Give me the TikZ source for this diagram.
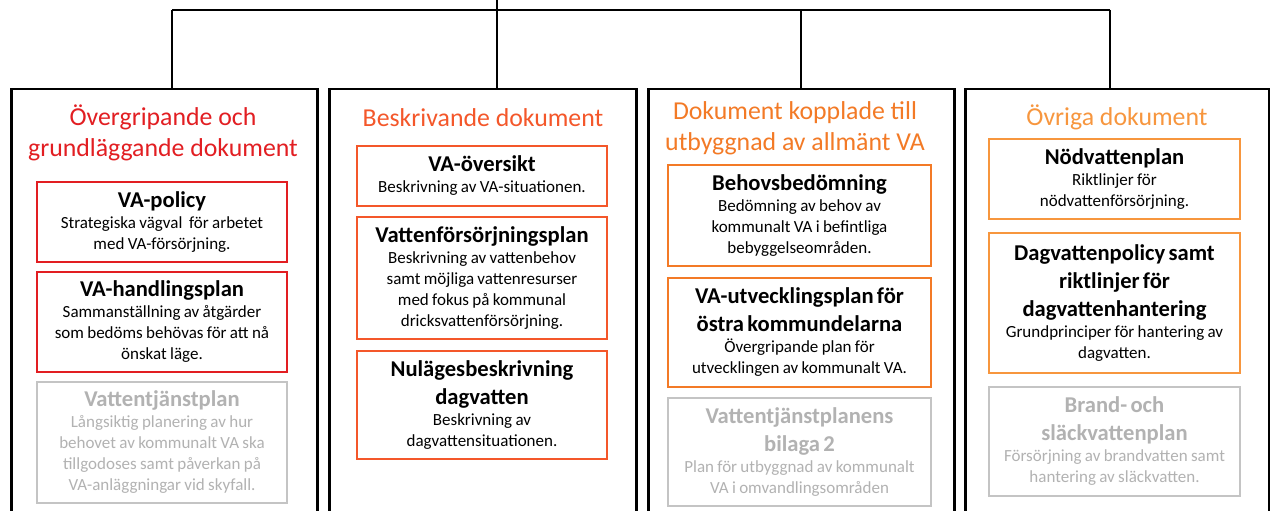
\documentclass[tikz,border=0pt]{standalone}
\usepackage{fontspec}
\setmainfont{Carlito}
\definecolor{cred}{HTML}{E21E22}
\definecolor{corr}{HTML}{F4572A}
\definecolor{cora}{HTML}{F37A26}
\definecolor{corb}{HTML}{F7963E}
\definecolor{cgrayline}{HTML}{C4C4C4}
\definecolor{cgraytext}{HTML}{B2B2B2}
\newcommand\ttl[1]{{\fontsize{22.6}{28}\selectfont\bfseries #1\par}}
\newcommand\bdy[1]{{\fontsize{17}{21}\selectfont #1\par}}
\tikzset{
  colbox/.style={draw=black, line width=2.5pt, anchor=north west, minimum height=460pt},
  ibox/.style={draw=#1, line width=2pt, align=center, inner sep=3pt},
  head/.style={align=center, text=#1, font=\fontsize{25.8}{31}\selectfont},
  conn/.style={draw=black, line width=2pt},
}
\begin{document}
\begin{tikzpicture}[x=1pt,y=-1pt]
\clip (0,0) rectangle (1270,511);
\fill[white] (0,0) rectangle (1270,511);
% columns
\node[colbox, minimum width=306pt] (c1) at (10,88) {};
\node[colbox, minimum width=307pt] (c2) at (328,88) {};
\node[colbox, minimum width=306pt] (c3) at (647,88) {};
\node[colbox, minimum width=304pt] (c4) at (964,88) {};
% connectors
\coordinate (top) at (497,0);
\coordinate (b1) at (172,10);
\coordinate (b2) at (497,10);
\coordinate (b3) at (801,10);
\coordinate (b4) at (1110,10);
\draw[conn] (b1) -- (b4);
\draw[conn] (top) -- (b2);
\draw[conn] (b1) -- (b1 |- c1.north);
\draw[conn] (b2) -- (b2 |- c2.north);
\draw[conn] (b3) -- (b3 |- c3.north);
\draw[conn] (b4) -- (b4 |- c4.north);
% headings
\node[head=cred] (h1) at (163,132.5) {Övergripande och\\grundläggande dokument};
\node[head=corr] (h2) at (483,118) {Beskrivande dokument};
\node[head=cora] (h3) at (795,128) {Dokument kopplade till\\utbyggnad av allmänt VA};
\node[head=corb] (h4) at (1117,117) {Övriga dokument};
% column 1
\node[ibox=cred, minimum width=250pt, minimum height=80pt, text width=242pt] (p11) at (162,222)
  {\ttl{VA-policy}\bdy{Strategiska vägval\ \ för arbetet\\med VA-försörjning.}};
\node[ibox=cred, minimum width=250pt, minimum height=100pt, text width=242pt] (p12) at (162,322)
  {\ttl{VA-handlingsplan}\bdy{Sammanställning av åtgärder\\som bedöms behövas för att nå\\önskat läge.}};
\node[ibox=cgrayline, text=cgraytext, minimum width=250pt, minimum height=121pt, text width=242pt] (p13) at (162,442.5)
  {\ttl{Vattentjänstplan}\bdy{Långsiktig planering av hur\\behovet av kommunalt VA ska\\tillgodoses samt påverkan på\\VA-anläggningar vid skyfall.}};
% column 2
\node[ibox=corr, minimum width=250pt, minimum height=60pt, text width=242pt] (p21) at (482,176)
  {\ttl{VA-översikt}\bdy{Beskrivning av VA-situationen.}};
\node[ibox=corr, minimum width=250pt, minimum height=122pt, text width=242pt] (p22) at (482,278)
  {\ttl{Vattenförsörjningsplan}\bdy{Beskrivning av vattenbehov\\samt möjliga vattenresurser\\med fokus på kommunal\\dricksvattenförsörjning.}};
\node[ibox=corr, minimum width=250pt, minimum height=108pt, text width=242pt] (p23) at (482,405)
  {\ttl{Nulägesbeskrivning\\dagvatten}\bdy{Beskrivning av\\dagvattensituationen.}};
% column 3
\node[ibox=cora, minimum width=263pt, minimum height=101pt, text width=255pt] (p31) at (799.5,215.5)
  {\ttl{Behovsbedömning}\bdy{Bedömning av behov av\\kommunalt VA i befintliga\\bebyggelseområden.}};
\node[ibox=cora, minimum width=263pt, minimum height=109pt, text width=255pt] (p32) at (799.5,332.5)
  {\ttl{VA-utvecklingsplan för\\östra kommundelarna}\bdy{Övergripande plan för\\utvecklingen av kommunalt VA.}};
\node[ibox=cgrayline, text=cgraytext, minimum width=263pt, minimum height=108pt, text width=255pt] (p33) at (799.5,452)
  {\ttl{Vattentjänstplanens\\bilaga 2}\bdy{Plan för utbyggnad av kommunalt\\VA i omvandlingsområden}};
% column 4
\node[ibox=corb, minimum width=251pt, minimum height=80pt, text width=243pt] (p41) at (1114.5,179)
  {\ttl{Nödvattenplan}\bdy{Riktlinjer för\\nödvattenförsörjning.}};
\node[ibox=corb, minimum width=251pt, minimum height=140pt, text width=243pt] (p42) at (1114.5,303)
  {\ttl{Dagvattenpolicy samt\\riktlinjer för\\dagvattenhantering}\bdy{Grundprinciper för hantering av\\dagvatten.}};
\node[ibox=cgrayline, text=cgraytext, minimum width=251pt, minimum height=109pt, text width=243pt] (p43) at (1114.5,441.5)
  {\ttl{Brand- och\\släckvattenplan}\bdy{Försörjning av brandvatten samt\\hantering av släckvatten.}};
\end{tikzpicture}
\end{document}
